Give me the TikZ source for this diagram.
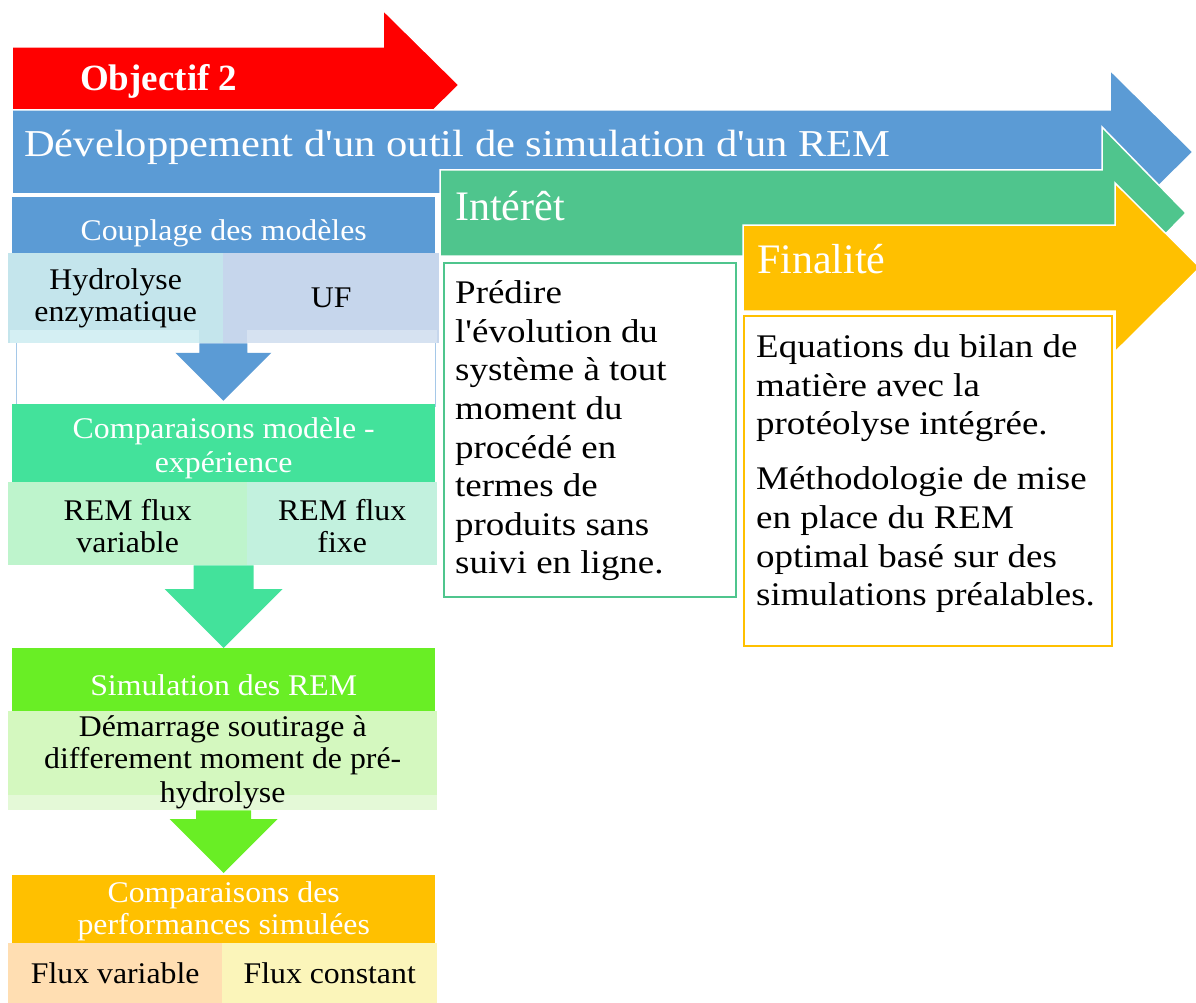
\documentclass[tikz,border=0pt]{standalone}
\usepackage{fontspec}
\setmainfont{Liberation Serif}
\newfontfamily\widefont{Liberation Serif}[FakeStretch=1.12]
\newfontfamily\stagefont{Liberation Serif}[FakeStretch=1.06]
\usetikzlibrary{calc,positioning}
\definecolor{objred}{HTML}{FF0000}
\definecolor{devblue}{HTML}{5B9BD5}
\definecolor{intgreen}{HTML}{4FC58D}
\definecolor{finorange}{HTML}{FFC000}
\definecolor{cmpgreen}{HTML}{43E29B}
\definecolor{simlime}{HTML}{69EE25}
\definecolor{hydcyan}{HTML}{C4E5EC}
\definecolor{hydfade}{HTML}{D4EFF3}
\definecolor{ufblue}{HTML}{C6D6EC}
\definecolor{uffade}{HTML}{D6E2F1}
\definecolor{remvar}{HTML}{BEF4CC}
\definecolor{remfix}{HTML}{C2F1DE}
\definecolor{demlime}{HTML}{D4F8BF}
\definecolor{demfade}{HTML}{E4F9D7}
\definecolor{fluxvar}{HTML}{FFDEB2}
\definecolor{fluxcst}{HTML}{FBF5BA}
\tikzset{
  bigarrow/.style={fill=#1, draw=white, line width=1.5pt},
  arrowlabel/.style={text=white, anchor=base west, inner sep=0,
    font=\fontsize{42}{48}\selectfont},
  stagehead/.style={rectangle, fill=#1, text=white, anchor=north west,
    minimum width=423, inner sep=0, align=center,
    font=\stagefont\fontsize{30}{32}\selectfont},
  stagesub/.style={rectangle, fill=#1, text=black, anchor=north west,
    inner sep=0, align=center,
    font=\stagefont\fontsize{30}{32}\selectfont},
  panel/.style={rectangle, draw=#1, fill=white, line width=1.6pt,
    anchor=north west, inner sep=0},
  paneltext/.style={anchor=north west, inner sep=0, align=left,
    font=\widefont\fontsize{33}{38.6}\selectfont},
}
% raise the top of a first line, to set the text lower in its box
\newcommand{\padtop}[1]{\rule{0pt}{#1}}
% block arrow pointing down: colour, top point, tip point, shaft half width, head half width
\newcommand{\stagearrow}[5]{%
  \fill[#1] let \p1=(#2), \p2=(#3) in
    (\x1-#4,\y1) -- (\x1+#4,\y1) -- (\x1+#4,\y2+#5) -- (\x1+#5,\y2+#5)
    -- (\x1,\y2) -- (\x1-#5,\y2+#5) -- (\x1-#4,\y2+#5) -- cycle;}

\begin{document}
\begin{tikzpicture}[x=1pt, y=-1pt]
  \useasboundingbox (0,0) rectangle (1196,1003);

  % big arrows across the top
  \draw[bigarrow=objred] (12,47) -- (383,47) -- (383,10) -- (459,85)
    -- (383,160) -- (383,123) -- (12,123) -- cycle;
  \draw[bigarrow=devblue] (12,110) -- (1110,110) -- (1110,70) -- (1193,152)
    -- (1110,234) -- (1110,194) -- (12,194) -- cycle;
  \draw[bigarrow=intgreen] (440,170) -- (1102,170) -- (1102,127) -- (1186,213)
    -- (1102,299) -- (1102,256) -- (440,256) -- cycle;
  \draw[bigarrow=finorange] (743,225) -- (1115,225) -- (1115,183) -- (1200,267.5)
    -- (1115,352) -- (1115,311) -- (743,311) -- cycle;

  \node[arrowlabel, font=\bfseries\fontsize{37}{42}\selectfont] (obj) at (80,91) {Objectif 2};
  \node[arrowlabel, font=\widefont\fontsize{38}{44}\selectfont] (dev) at (24,157)
    {Développement d'un outil de simulation d'un REM};
  \node[arrowlabel] (int) at (455,220) {Intérêt};
  \node[arrowlabel] (fin) at (757,273) {Finalité};

  % stage 1: coupling
  \node[panel=devblue!55, line width=0.8pt, minimum width=419, minimum height=76]
    (couplframe) at (16,330) {};
  \node[stagehead=devblue, minimum height=58] (coupl) at (12,197)
    {\padtop{34.5pt}Couplage des modèles};
  \node[stagesub=hydcyan, minimum width=215, minimum height=90] (hyd) at (8,253)
    {\padtop{22pt}Hydrolyse\\enzymatique};
  \node[stagesub=ufblue, minimum width=216, minimum height=90] (uf) at (223,253) {UF};
  \fill[hydfade] (10,330) rectangle (199,343);
  \fill[uffade] (247,330) rectangle (437,343);
  \stagearrow{devblue}{hyd.south east}{[yshift=6pt]coupl.south |- couplframe.south}{24pt}{48pt}

  % stage 2: model / experiment
  \node[stagehead=cmpgreen, minimum height=78] (cmp) at (12,404)
    {\padtop{30.5pt}Comparaisons modèle -\\[2pt]expérience};
  \node[stagesub=remvar, minimum width=239, minimum height=83] (remv) at (8,482)
    {\padtop{25.5pt}REM flux\\variable};
  \node[stagesub=remfix, minimum width=190, minimum height=83] (remf) at (247,482)
    {\padtop{25.5pt}REM flux\\fixe};

  % stage 3: simulation
  \node[stagehead=simlime, minimum height=63] (sim) at (12,648)
    {\padtop{31pt}Simulation des REM};
  \node[stagesub=demfade, minimum width=429, minimum height=99] (dem) at (8,711) {};
  \fill[demlime] (dem.north west) rectangle ([yshift=15pt]dem.south east);
  \node[stagesub=none, anchor=center] (demtxt) at (dem.center)
    {\padtop{23.5pt}Démarrage soutirage à\\differement moment de pré-\\[2pt]hydrolyse};
  \stagearrow{cmpgreen}{cmp.south |- remv.south}{sim.north}{30pt}{59pt}

  % stage 4: performances
  \node[stagehead=finorange, minimum height=68] (perf) at (12,875)
    {\padtop{24.5pt}Comparaisons des\\performances simulées};
  \node[stagesub=fluxvar, minimum width=214, minimum height=60] (fvar) at (8,943)
    {Flux variable};
  \node[stagesub=fluxcst, minimum width=215, minimum height=60] (fcst) at (222,943)
    {Flux constant};
  \stagearrow{simlime}{sim.south |- dem.south}{[yshift=2pt]perf.north}{27.5pt}{54pt}

  % text panels under the arrows
  \node[panel=intgreen, minimum width=292, minimum height=334] (intp) at (443,262) {};
  \node[paneltext] (inttxt) at (455,280.5)
    {Prédire\\l'évolution du\\système à tout\\moment du\\procédé en\\termes de\\produits sans\\suivi en ligne.};
  \node[panel=finorange, minimum width=368, minimum height=330] (finp) at (743,315) {};
  \node[paneltext] (fintxt) at (756,334.5)
    {Equations du bilan de\\matière avec la\\protéolyse intégrée.\\[16.5pt]Méthodologie de mise\\en place du REM\\optimal basé sur des\\simulations préalables.};
\end{tikzpicture}
\end{document}
